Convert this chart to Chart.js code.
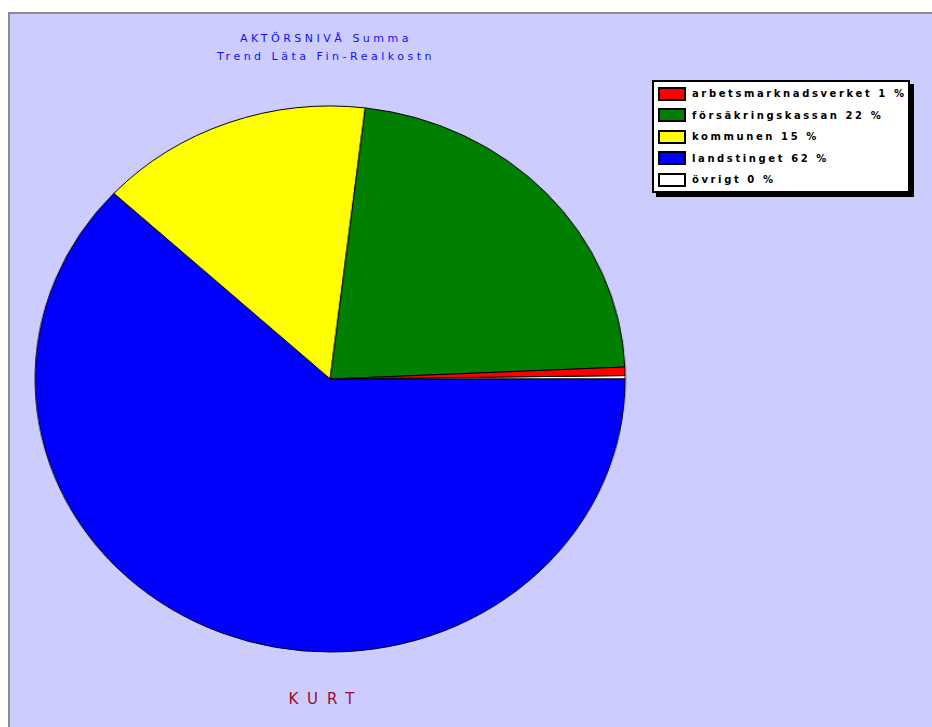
<!DOCTYPE html>
<html lang="sv">
<head>
  <meta charset="UTF-8" />
  <title>AKTÖRSNIVÅ Summa</title>
  <script src="https://cdn.jsdelivr.net/npm/chart.js"></script>
  <style>
    body {
      margin: 0;
      background: #ffffff;
      width: 932px;
      height: 727px;
      overflow: hidden;
      position: relative;
      font-family: 'DejaVu Sans', sans-serif;
    }

    .panel {
      position: absolute;
      left: 8px;
      top: 12px;
      width: 940px;
      height: 740px;
      background: #ccccff;
      border-left: 2px solid #8c8c8c;
      border-top: 2px solid #8c8c8c;
    }

    .title {
      position: absolute;
      left: 0;
      width: 652px;
      text-align: center;
      color: #1010ff;
      font-size: 11px;
      letter-spacing: 3.5px;
    }

    /* pie is drawn round, then stretched a little to get the wide oval */
    .pie-wrap {
      position: absolute;
      left: 33px;
      top: 104px;
      width: 550px;
      height: 550px;
      transform: scaleX(1.0806);
      transform-origin: 0 0;
    }

    .legend {
      position: absolute;
      left: 652px;
      top: 80px;
      width: 258px;
      height: 113px;
      background: #ffffff;
      border: 2px solid #000;
      box-shadow: 4px 4px 0 #000;
      box-sizing: border-box;
      padding-top: 1px;
    }

    .legend-row {
      height: 21.5px;
      display: flex;
      align-items: center;
      font-size: 10px;
      font-weight: bold;
      letter-spacing: 2.6px;
      color: #000;
      white-space: nowrap;
    }

    .swatch {
      width: 24px;
      height: 10px;
      border: 2px solid #000;
      margin-left: 4px;
      margin-right: 6px;
      flex: none;
    }

    .footer {
      position: absolute;
      left: 0;
      width: 652px;
      top: 690px;
      text-align: center;
      color: #9a0b25;
      font-size: 15px;
      letter-spacing: 9px;
    }
  </style>
</head>
<body>
  <div class="panel"></div>
  <div class="title" style="top:32px">AKTÖRSNIVÅ Summa</div>
  <div class="title" style="top:50px">Trend Läta Fin-Realkostn</div>

  <div class="pie-wrap">
    <canvas id="pieChart" width="550" height="550"></canvas>
  </div>

  <div class="legend" id="legend"></div>

  <div class="footer">KURT</div>

  <script>
    const labels = ["arbetsmarknadsverket", "försäkringskassan", "kommunen", "landstinget", "övrigt"];
    const shares = [0.5, 22.4, 15.0, 61.9, 0.2];
    const colors = ["#ff0000", "#007f00", "#ffff00", "#0000ff", "#ffffff"];

    // legend text carries the rounded share of each slice
    const legend = document.getElementById("legend");
    labels.forEach((name, i) => {
      const row = document.createElement("div");
      row.className = "legend-row";
      const sw = document.createElement("span");
      sw.className = "swatch";
      sw.style.background = colors[i];
      row.appendChild(sw);
      row.appendChild(document.createTextNode(name + " " + Math.round(shares[i]) + " %"));
      legend.appendChild(row);
    });

    // slices go counter-clockwise from 3 o'clock, so feed them reversed
    new Chart(document.getElementById("pieChart"), {
      type: "pie",
      data: {
        labels: labels.slice().reverse(),
        datasets: [{
          data: shares.slice().reverse(),
          backgroundColor: colors.slice().reverse(),
          borderColor: "#000000",
          borderWidth: 1,
          hoverOffset: 0
        }]
      },
      options: {
        responsive: false,
        animation: false,
        devicePixelRatio: 1,
        radius: 273,
        rotation: 90 - shares[4] * 3.6,
        layout: { padding: 0 },
        plugins: {
          legend: { display: false },
          title: { display: false },
          tooltip: { enabled: false }
        }
      }
    });
  </script>
</body>
</html>
